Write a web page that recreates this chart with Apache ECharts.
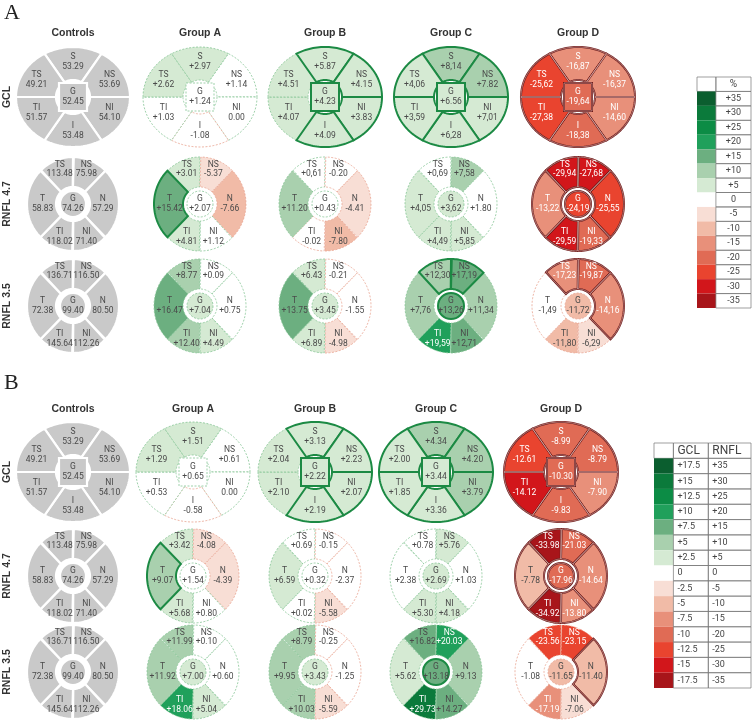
<!DOCTYPE html>
<html>
<head>
<meta charset="utf-8">
<script src="https://cdn.jsdelivr.net/npm/echarts@6/dist/echarts.min.js"></script>
<style>
  html, body { margin: 0; background: #fff; }
  #chart { width: 752px; height: 726px; }
</style>
</head>
<body>
<div id="chart"></div>
<script>
const groups = ['Controls', 'Group A', 'Group B', 'Group C', 'Group D']
const layers = ['GCL', 'RNFL 4.7', 'RNFL 3.5']
const gclRegions = ['S', 'NS', 'NI', 'I', 'TI', 'TS', 'G']
const rnflRegions = ['TS', 'NS', 'N', 'NI', 'TI', 'T', 'G']

// controls, absolute thickness (same in both panels)
const ctrlGcl = ['53.29', '53.69', '54.10', '53.48', '51.57', '49.21', '52.45']
const ctrlR47 = ['113.48', '75.98', '57.29', '71.40', '118.02', '58.83', '74.26']
const ctrlR35 = ['136.71', '116.50', '80.50', '112.26', '145.64', '72.38', '99.40']

// panel A, % difference to controls
const aGclA = ['+2.97', '+1.14', '0.00', '-1.08', '+1.03', '+2.62', '+1.24']
const aGclB = ['+5.87', '+4.15', '+3.83', '+4.09', '+4.07', '+4.51', '+4.23']
const aGclC = ['+8,14', '+7.82', '+7,01', '+6,28', '+3,59', '+4,06', '+6.56']
const aGclD = ['-16,87', '-16,37', '-14,60', '-18,38', '-27,38', '-25,62', '-19,64']
const aR47A = ['+3.01', '-5.37', '-7.66', '+1.12', '+4.81', '+15.42', '+2.07']
const aR47B = ['+0,61', '-0.20', '-4.41', '-7.80', '-0.02', '+11.20', '+0.43']
const aR47C = ['+0,69', '+7,58', '+1.80', '+5,85', '+4,49', '+4,05', '+3,62']
const aR47D = ['-29,94', '-27,68', '-25,55', '-19,33', '-29,59', '-13,22', '-24,19']
const aR35A = ['+8.77', '+0.09', '+0.75', '+4.49', '+12.40', '+16.47', '+7.04']
const aR35B = ['+6.43', '-0.21', '-1.55', '-4.98', '+6.89', '+13.75', '+3.45']
const aR35C = ['+12,30', '+17,19', '+11,34', '+12,71', '+19,59', '+7,76', '+13,26']
const aR35D = ['-17,23', '-19,87', '-14,16', '-6,29', '-11,80', '-1,49', '-11,72']

// panel B
const bGclA = ['+1.51', '+0.61', '0.00', '-0.58', '+0.53', '+1.29', '+0.65']
const bGclB = ['+3.13', '+2.23', '+2.07', '+2.19', '+2.10', '+2.04', '+2.22']
const bGclC = ['+4.34', '+4.20', '+3.79', '+3.36', '+1.85', '+2.00', '+3.44']
const bGclD = ['-8.99', '-8.79', '-7.90', '-9.83', '-14.12', '-12.61', '-10.30']
const bR47A = ['+3.42', '-4.08', '-4.39', '+0.80', '+5.68', '+9.07', '+1.54']
const bR47B = ['+0.69', '-0.15', '-2.37', '-5.58', '+0.02', '+6.59', '+0.32']
const bR47C = ['+0.78', '+5.76', '+1.03', '+4.18', '+5.30', '+2.38', '+2.69']
const bR47D = ['-33.98', '-21.03', '-14.64', '-13.80', '-34.92', '-7.78', '-17.96']
const bR35A = ['+11.99', '+0.10', '+0.60', '+5.04', '+18.06', '+11.92', '+7.00']
const bR35B = ['+8.79', '-0.25', '-1.25', '-5.59', '+10.03', '+9.95', '+3.43']
const bR35C = ['+16.82', '+20.03', '+9.13', '+14.27', '+29.73', '+5.62', '+13.18']
const bR35D = ['-23.56', '-23.15', '-11.40', '-7.06', '-17.19', '-1.08', '-11.65']

// regions drawn with a heavy outline (significant), groups A..D
const ALL_G = ['S', 'NS', 'NI', 'I', 'TI', 'TS', 'G']
const ALL_R = ['TS', 'NS', 'N', 'NI', 'TI', 'T', 'G']
const aSigGcl = [[], ['S', 'NS', 'NI', 'I', 'G'], ALL_G, ALL_G]
const aSigR47 = [['T'], [], [], ALL_R]
const aSigR35 = [[], [], ['TS', 'NS', 'G'], ['TS', 'NS', 'N']]
const bSigGcl = [[], ['S', 'NS', 'NI', 'I', 'G'], ALL_G, ALL_G]
const bSigR47 = [['T'], [], [], ALL_R]
const bSigR35 = [[], [], ['G'], ['N']]

// colour scale
const palette = ['#a8151a', '#d2161b', '#e9442f', '#e06b55', '#e8907a', '#f1bba7', '#f8ded5', '#ffffff',
  '#d5ead3', '#a9d0ae', '#6caf80', '#20a05b', '#0c8c45', '#0b7a3b', '#0b5e2f']
const legendALabels = ['%', '+35', '+30', '+25', '+20', '+15', '+10', '+5', '0', '-5', '-10', '-15', '-20', '-25', '-30', '-35']
const legendBGcl = ['GCL', '+17.5', '+15', '+12.5', '+10', '+7.5', '+5', '+2.5', '0', '-2.5', '-5', '-7.5', '-10', '-12.5', '-15', '-17.5']
const legendBRnfl = ['RNFL', '+35', '+30', '+25', '+20', '+15', '+10', '+5', '0', '-5', '-10', '-15', '-20', '-25', '-30', '-35']

const gclArcs = { S: [60, 120], NS: [0, 60], NI: [-60, 0], I: [-120, -60], TI: [180, 240], TS: [120, 180] }
const rnflArcs = { TS: [90, 135], NS: [45, 90], N: [-45, 45], NI: [-90, -45], TI: [-135, -90], T: [135, 225] }
const gclLab = { S: [0, 0.7], NS: [0.64, 0.34], NI: [0.64, -0.32], I: [0, -0.68], TI: [-0.64, -0.32], TS: [-0.64, 0.34], G: [0, 0] }
const rnflLab = { TS: [-0.29, 0.74], NS: [0.29, 0.74], N: [0.65, 0], NI: [0.29, -0.7], TI: [-0.29, -0.7], T: [-0.66, 0], G: [0, 0] }

const panels = [
  {
    letter: 'A', letterY: 2, titleY: 28, cols: [73, 200, 325, 451, 578], rows: [97, 204, 306], steps: [5, 5, 5],
    data: [[ctrlGcl, aGclA, aGclB, aGclC, aGclD], [ctrlR47, aR47A, aR47B, aR47C, aR47D], [ctrlR35, aR35A, aR35B, aR35C, aR35D]],
    sig: [aSigGcl, aSigR47, aSigR35]
  },
  {
    letter: 'B', letterY: 372, titleY: 404, cols: [73, 193, 315, 436, 561], rows: [472, 576, 672], steps: [2.5, 5, 5],
    data: [[ctrlGcl, bGclA, bGclB, bGclC, bGclD], [ctrlR47, bR47A, bR47B, bR47C, bR47D], [ctrlR35, bR35A, bR35B, bR35C, bR35D]],
    sig: [bSigGcl, bSigR47, bSigR35]
  }
]

const rad = d => d * Math.PI / 180
const num = s => Number(s.replace(',', '.'))
const level = (v, step) => Math.max(-7, Math.min(7, Math.round(v / step)))
const FONT = 'Roboto, "Liberation Sans", sans-serif'

function regionShape(kind, reg, api) {
  const c = api.coord([0, 0])
  if (reg === 'G') {
    if (kind === 'gcl') return { type: 'rect', shape: { x: c[0] - 14, y: c[1] - 14, width: 28, height: 28 } }
    return { type: 'circle', shape: { cx: c[0], cy: c[1], r: 13 } }
  }
  const [a0, a1] = (kind === 'gcl' ? gclArcs : rnflArcs)[reg]
  const rIn = 17
  const pts = []
  for (let a = a0; a <= a1 + 0.01; a += 2) pts.push(api.coord([Math.cos(rad(a)), Math.sin(rad(a))]))
  for (let a = a1; a >= a0 - 0.01; a -= 2) pts.push([c[0] + rIn * Math.cos(rad(a)), c[1] - rIn * Math.sin(rad(a))])
  return { type: 'polygon', shape: { points: pts } }
}

function diagramRender(kind, regions, labels, step, sig, isCtrl) {
  return (params, api) => {
    const i = params.dataIndex
    const reg = regions[i]
    const txt = labels[i]
    const v = num(txt)
    const lv = level(v, step)
    const fill = isCtrl ? '#c9c9c9' : palette[lv + 7]
    const isSig = !isCtrl && sig.indexOf(reg) >= 0
    const base = regionShape(kind, reg, api)
    const children = []
    let stroke, lw, dash = null
    if (isCtrl) { stroke = '#fff'; lw = 2.2 }
    else if (isSig) { stroke = v >= 0 ? '#1c8a44' : '#6e1a1a'; lw = 2 }
    else { stroke = v >= 0 ? '#86c596' : '#e9a391'; lw = 0.8; dash = [2, 1.5] }
    const zBase = reg === 'G' ? 20 : 0
    children.push(Object.assign({}, base, {
      style: { fill, stroke, lineWidth: lw, lineDash: dash },
      z2: zBase + (isSig ? 10 : 1)
    }))
    if (isSig && v < 0) {
      children.push(Object.assign({}, regionShape(kind, reg, api), {
        style: { fill: null, stroke: '#f3d2cc', lineWidth: 0.5 },
        z2: zBase + 11
      }))
    }
    const lp = (kind === 'gcl' ? gclLab : rnflLab)[reg]
    const p = api.coord(lp)
    const white = !isCtrl && (lv <= -3 || lv >= 4)
    children.push({
      type: 'text', z2: 40,
      style: {
        text: reg + '\n' + txt, x: p[0], y: p[1], align: 'center', verticalAlign: 'middle',
        fontSize: 8.5, lineHeight: 9.5, fontFamily: FONT, fill: white ? '#fff' : '#4a4a4a'
      }
    })
    return { type: 'group', children }
  }
}

const grids = [], xAxes = [], yAxes = [], series = [], graphic = []
const hidden = { show: false, min: -1, max: 1, type: 'value' }

panels.forEach(pn => {
  graphic.push({ type: 'text', left: 4, top: pn.letterY, style: { text: pn.letter, fontSize: 22, fontFamily: '"Liberation Serif", serif', fill: '#222' } })
  groups.forEach((g, ci) => {
    graphic.push({ type: 'text', x: pn.cols[ci], y: pn.titleY, style: { text: g, align: 'center', fontSize: 10.5, fontWeight: 'bold', fontFamily: '"Liberation Sans", Arial, sans-serif', fill: '#333' } })
  })
  layers.forEach((ly, ri) => {
    graphic.push({
      type: 'text', x: 7, y: pn.rows[ri], rotation: Math.PI / 2,
      style: { text: ly, align: 'center', verticalAlign: 'middle', fontSize: 10.5, fontWeight: 'bold', fontFamily: '"Liberation Sans", Arial, sans-serif', fill: '#333' }
    })
    const kind = ri === 0 ? 'gcl' : 'rnfl'
    const rx = kind === 'gcl' ? 57 : 46
    const ry = kind === 'gcl' ? 50 : 47
    const regions = kind === 'gcl' ? gclRegions : rnflRegions
    groups.forEach((g, ci) => {
      const k = grids.length
      grids.push({ left: pn.cols[ci] - rx, top: pn.rows[ri] - ry, width: rx * 2, height: ry * 2 })
      xAxes.push(Object.assign({ gridIndex: k }, hidden))
      yAxes.push(Object.assign({ gridIndex: k }, hidden))
      const labels = pn.data[ri][ci]
      series.push({
        type: 'custom', xAxisIndex: k, yAxisIndex: k, clip: false, silent: true,
        data: labels.map((s, i) => [0, 0, num(s)]),
        renderItem: diagramRender(kind, regions, labels, pn.steps[ri], ci === 0 ? [] : pn.sig[ri][ci - 1], ci === 0)
      })
    })
  })
})

// legend tables
function legendRender(cols, colTexts, align, headerSize) {
  return (params, api) => {
    const r = params.dataIndex
    const h = api.size([0, 1])[1]
    const yc = api.coord([0, r])[1]
    const top = yc - h / 2
    const children = []
    const x0 = api.coord([cols[0], r])[0], x1 = api.coord([cols[1], r])[0]
    children.push({
      type: 'rect', shape: { x: x0, y: top, width: x1 - x0, height: h },
      style: { fill: r === 0 ? '#fff' : palette[15 - r], stroke: r === 0 ? '#777' : null, lineWidth: 0.7 }
    })
    for (let c = 1; c < cols.length - 1; c++) {
      const a = api.coord([cols[c], r])[0], b = api.coord([cols[c + 1], r])[0]
      children.push({ type: 'rect', shape: { x: a, y: top, width: b - a, height: h }, style: { fill: null, stroke: '#777', lineWidth: 0.7 } })
      children.push({
        type: 'text',
        style: {
          text: colTexts[c - 1][r], x: align === 'center' ? (a + b) / 2 : a + 4, y: yc, align, verticalAlign: 'middle',
          fontSize: r === 0 ? headerSize : 9, fontFamily: FONT, fill: '#444'
        }
      })
    }
    return { type: 'group', children }
  }
}

const legends = [
  { left: 697, top: 77, width: 54, height: 231, cols: [0, 0.35, 1], texts: [legendALabels], align: 'center', hs: 10 },
  { left: 654, top: 443, width: 97, height: 245, cols: [0, 0.2, 0.56, 1], texts: [legendBGcl, legendBRnfl], align: 'left', hs: 12 }
]
legends.forEach(lg => {
  const k = grids.length
  grids.push({ left: lg.left, top: lg.top, width: lg.width, height: lg.height })
  xAxes.push({ gridIndex: k, type: 'value', min: 0, max: 1, show: false })
  yAxes.push({ gridIndex: k, type: 'category', data: lg.texts[0], inverse: true, show: false })
  series.push({
    type: 'custom', xAxisIndex: k, yAxisIndex: k, clip: false, silent: true,
    data: lg.texts[0].map((t, i) => [0, i]),
    renderItem: legendRender(lg.cols, lg.texts, lg.align, lg.hs)
  })
})

const chart = echarts.init(document.getElementById('chart'))
chart.setOption({
  animation: false,
  grid: grids,
  xAxis: xAxes,
  yAxis: yAxes,
  series,
  graphic
})
</script>
</body>
</html>
